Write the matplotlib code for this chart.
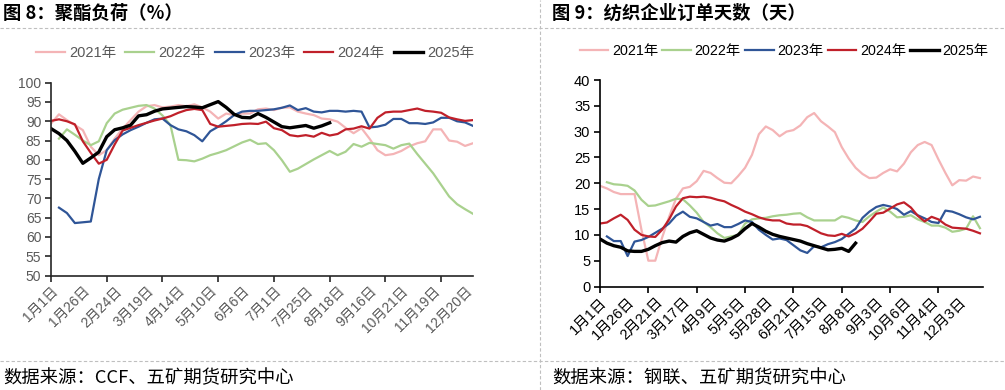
import numpy as np
import matplotlib
matplotlib.use("Agg")
import matplotlib.pyplot as plt
from matplotlib.lines import Line2D

plt.rcParams['font.family'] = ['Liberation Sans', 'Noto Sans CJK SC', 'DejaVu Sans']

nan = np.nan
years = ["2021年", "2022年", "2023年", "2024年", "2025年"]
colors = ["#F4B4B6", "#A9D18E", "#2F5597", "#C0202A", "#000000"]
widths = [1.6, 1.6, 1.6, 1.6, 2.4]

# ---------- left chart: 聚酯负荷 (weekly, 54 points) ----------
left_labels = ["1月1日", "1月26日", "2月24日", "3月19日", "4月14日", "5月10日", "6月6日",
               "7月1日", "7月25日", "8月18日", "9月16日", "10月21日", "11月19日", "12月20日"]
left_2021 = [89.4, 91.8, 90.3, 89.0, 87.7, 83.4, 81.2, 82.5, 85.5, 88.1, 90.3, 92.5, 93.9, 94.2,
             93.6, 93.8, 94.2, 93.9, 94.4, 93.6, 92.5, 90.7, 92.0, 91.6, 92.0, 92.0, 93.1, 93.3,
             92.9, 93.5, 93.6, 92.5, 92.0, 91.6, 90.7, 90.5, 89.9, 88.3, 86.9, 88.2, 85.5, 82.5,
             81.2, 81.5, 82.3, 83.5, 84.3, 84.8, 87.9, 87.9, 85.0, 84.7, 83.6, 84.3]
left_2022 = [nan, 85.5, 87.9, 86.5, 85.0, 83.8, 84.8, 89.5, 92.0, 93.0, 93.5, 94.0, 94.2, 93.3,
             91.5, 89.0, 80.0, 79.9, 79.6, 80.3, 81.2, 81.8, 82.5, 83.5, 84.5, 85.2, 84.1, 84.3,
             82.5, 79.9, 76.9, 77.7, 78.9, 80.1, 81.2, 82.3, 81.2, 82.1, 84.1, 83.4, 84.4, 84.1,
             83.8, 82.9, 83.8, 84.2, 81.5, 79.0, 76.5, 73.5, 70.5, 68.5, 67.2, 66.0]
left_2023 = [nan, 67.6, 66.2, 63.6, 63.8, 64.0, 75.0, 82.5, 85.1, 86.6, 87.7, 88.6, 89.6, 90.5,
             90.7, 89.0, 87.9, 87.4, 86.4, 84.8, 87.4, 88.6, 90.0, 91.6, 92.5, 92.7, 92.7, 92.9,
             93.1, 93.5, 94.1, 92.9, 93.4, 92.5, 92.3, 92.7, 92.7, 92.5, 92.7, 92.5, 88.4, 88.6,
             89.1, 90.6, 90.6, 89.5, 89.5, 89.3, 89.7, 90.9, 90.9, 90.0, 89.7, 88.8]
left_2024 = [90.1, 90.5, 90.0, 89.2, 84.8, 81.8, 79.0, 80.0, 84.0, 87.6, 88.3, 89.0, 89.6, 90.2,
             90.7, 91.3, 92.2, 92.9, 93.2, 92.9, 89.3, 88.6, 88.8, 89.0, 89.3, 89.4, 89.3, 89.9,
             88.2, 87.7, 86.4, 86.1, 86.4, 86.0, 87.0, 86.3, 86.7, 87.9, 88.1, 88.7, 88.1, 90.9,
             92.3, 92.5, 92.5, 92.9, 93.3, 92.7, 92.5, 92.2, 91.0, 90.5, 90.1, 90.3]
left_2025 = [88.1, 86.8, 85.0, 82.2, 79.1, 80.5, 82.0, 86.0, 87.8, 88.3, 89.0, 91.4, 91.7, 92.6,
             93.2, 93.4, 93.6, 93.8, 93.7, 93.5, 94.3, 95.1, 93.6, 91.8, 91.0, 90.9, 92.0, 91.0,
             89.8, 88.6, 88.3, 88.6, 88.9, 88.2, 88.8, 89.6]

# ---------- right chart: 纺织企业订单天数 (weekly, 56 points) ----------
right_labels = ["1月1日", "1月26日", "2月21日", "3月17日", "4月9日", "5月5日", "5月28日",
                "6月21日", "7月15日", "8月8日", "9月3日", "10月6日", "11月4日", "12月3日"]
right_2021 = [19.5, 19.0, 18.3, 17.9, 17.9, 17.9, 11.0, 5.0, 5.0, 9.5, 13.5, 17.0, 19.0, 19.3,
              20.4, 22.4, 22.0, 21.0, 20.1, 20.0, 21.4, 23.0, 25.5, 29.5, 31.0, 30.3, 29.1, 30.0,
              30.3, 31.2, 32.8, 33.6, 32.0, 31.0, 29.9, 27.0, 24.8, 23.0, 21.8, 21.0, 21.1, 22.0,
              22.7, 22.3, 23.8, 26.0, 27.4, 28.0, 27.4, 24.6, 22.0, 19.6, 20.6, 20.5, 21.3, 21.0]
right_2022 = [nan, 20.2, 19.8, 19.7, 19.5, 18.6, 16.8, 15.6, 15.7, 16.1, 16.5, 17.0, 16.9, 15.7,
              14.3, 12.5, 11.5, 10.3, 9.4, 9.7, 10.0, 12.2, 13.0, 13.2, 13.3, 13.6, 13.8, 13.9,
              14.1, 14.2, 13.4, 12.8, 12.8, 12.8, 12.8, 13.6, 13.3, 12.8, 12.5, 13.6, 14.5, 15.3,
              14.5, 13.4, 13.5, 13.8, 13.0, 12.5, 11.8, 11.8, 11.4, 10.6, 10.8, 11.2, 13.6, 11.3]
right_2023 = [nan, 9.7, 8.8, 8.8, 5.9, 8.7, 9.0, 9.6, 10.4, 11.2, 12.2, 13.7, 14.5, 13.5,
              13.2, 12.5, 11.8, 12.1, 11.5, 11.5, 12.1, 12.8, 12.5, 11.0, 10.0, 9.1, 9.3, 9.0,
              8.0, 7.0, 6.5, 7.8, 7.6, 8.2, 8.6, 9.2, 10.2, 11.2, 13.3, 14.5, 15.4, 15.8,
              15.5, 15.0, 13.9, 14.6, 13.8, 13.2, 12.5, 12.3, 14.7, 14.5, 14.0, 13.4, 13.0, 13.5]
right_2024 = [12.2, 12.4, 13.2, 13.9, 12.9, 11.0, 10.0, 9.7, 9.6, 11.0, 13.0, 15.5, 17.1, 17.4,
              17.3, 17.4, 17.2, 16.8, 16.5, 15.8, 15.2, 14.5, 14.0, 13.4, 13.0, 12.8, 12.8, 12.2,
              12.0, 12.0, 11.7, 11.0, 10.3, 9.9, 9.8, 10.2, 9.7, 10.3, 11.2, 12.6, 14.1, 14.3,
              15.1, 15.9, 16.3, 15.3, 13.7, 12.6, 13.5, 13.0, 12.0, 11.4, 11.3, 11.2, 10.8, 10.3]
right_2025 = [9.2, 8.4, 7.9, 7.6, 6.9, 6.8, 6.8, 7.2, 7.9, 8.5, 8.8, 8.6, 9.7, 10.4,
              10.8, 10.1, 9.4, 9.0, 8.8, 9.3, 10.0, 11.2, 12.2, 11.5, 10.7, 10.1, 9.7, 9.4,
              9.1, 8.8, 8.3, 7.9, 7.5, 7.1, 7.2, 7.4, 6.8, 8.4]

W, H = 1005, 390
fig = plt.figure(figsize=(W / 100, H / 100), dpi=100)


def fx(px):
    return px / W


def fy(py):
    return 1 - py / H


# separators
dash = dict(color="#BFBFBF", lw=0.8, ls=(0, (3, 2)))
fig.add_artist(Line2D([0, 1], [fy(28), fy(28)], transform=fig.transFigure, **dash))
fig.add_artist(Line2D([0, 1], [fy(361), fy(361)], transform=fig.transFigure, **dash))
fig.add_artist(Line2D([fx(540), fx(540)], [0, 1], transform=fig.transFigure, **dash))

# titles and sources
tfont = dict(family=['Noto Sans CJK SC', 'DejaVu Sans'], fontsize=13.2, fontweight='bold', color='black')
fig.text(fx(3), fy(13), "图 8：聚酯负荷（%）", ha='left', va='center', **tfont)
fig.text(fx(552), fy(13), "图 9：纺织企业订单天数（天）", ha='left', va='center', **tfont)
sfont = dict(family=['Noto Sans CJK SC', 'DejaVu Sans'], fontsize=13.2, color='black')
fig.text(fx(3), fy(378), "数据来源：CCF、五矿期货研究中心", ha='left', va='center', **sfont)
fig.text(fx(552), fy(378), "数据来源：钢联、五矿期货研究中心", ha='left', va='center', **sfont)


def setup(ax, n_last, labels, ylim, ystep, tickcolor, axcolor, fs):
    ax.set_xlim(0, n_last)
    ax.set_ylim(*ylim)
    ax.set_yticks(np.arange(ylim[0], ylim[1] + 0.1, ystep))
    for s in ["top", "right"]:
        ax.spines[s].set_visible(False)
    for s in ["left", "bottom"]:
        ax.spines[s].set_color(axcolor)
        ax.spines[s].set_linewidth(1.2)
    ax.xaxis.remove_overlapping_locs = False
    ax.set_xticks(np.arange(0, 50, 7), labels=[""] * len(np.arange(0, 50, 7)))
    ax.set_xticks(np.arange(0, 4 * len(labels), 4), labels=labels, minor=True)
    ax.tick_params(axis='x', which='major', length=4, width=1.2, color=axcolor, direction='out')
    ax.tick_params(axis='x', which='minor', length=0, pad=6, labelsize=fs, labelcolor=tickcolor)
    ax.tick_params(axis='y', length=4, width=1.2, color=axcolor, labelsize=fs, labelcolor=tickcolor, pad=3)
    for lbl in ax.get_xticklabels(minor=True):
        lbl.set_rotation(45)
        lbl.set_ha('right')
        lbl.set_va('top')
        lbl.set_rotation_mode('anchor')


# left axes
axL = fig.add_axes([fx(51), fy(275.5), fx(422), (275.5 - 82.7) / H])
for ys, c, w, lab in zip([left_2021, left_2022, left_2023, left_2024, left_2025], colors, widths, years):
    axL.plot(np.arange(len(ys)), ys, color=c, lw=w, label=lab, solid_joinstyle='round')
setup(axL, 53, left_labels, (50, 100), 5, "#595959", "#262626", 10)
hL, lL = axL.get_legend_handles_labels()
fig.legend(hL, lL, loc='center', bbox_to_anchor=(fx(255), fy(53)), ncol=5, frameon=False,
           fontsize=10.5, handlelength=2.0, handletextpad=0.3, columnspacing=0.6,
           labelcolor="#595959")

# right axes
axR = fig.add_axes([fx(600), fy(286.5), fx(382.7), (286.5 - 80) / H])
for ys, c, w, lab in zip([right_2021, right_2022, right_2023, right_2024, right_2025], colors, widths, years):
    axR.plot(np.arange(len(ys)), ys, color=c, lw=w, label=lab, solid_joinstyle='round')
setup(axR, 55.4, right_labels, (0, 40), 5, "#000000", "#000000", 10.5)
hR, lR = axR.get_legend_handles_labels()
fig.legend(hR, lR, loc='center', bbox_to_anchor=(fx(784), fy(51)), ncol=5, frameon=False,
           fontsize=10.3, handlelength=2.0, handletextpad=0.25, columnspacing=0.3,
           labelcolor="#000000")

fig.savefig("out.png", dpi=100)
